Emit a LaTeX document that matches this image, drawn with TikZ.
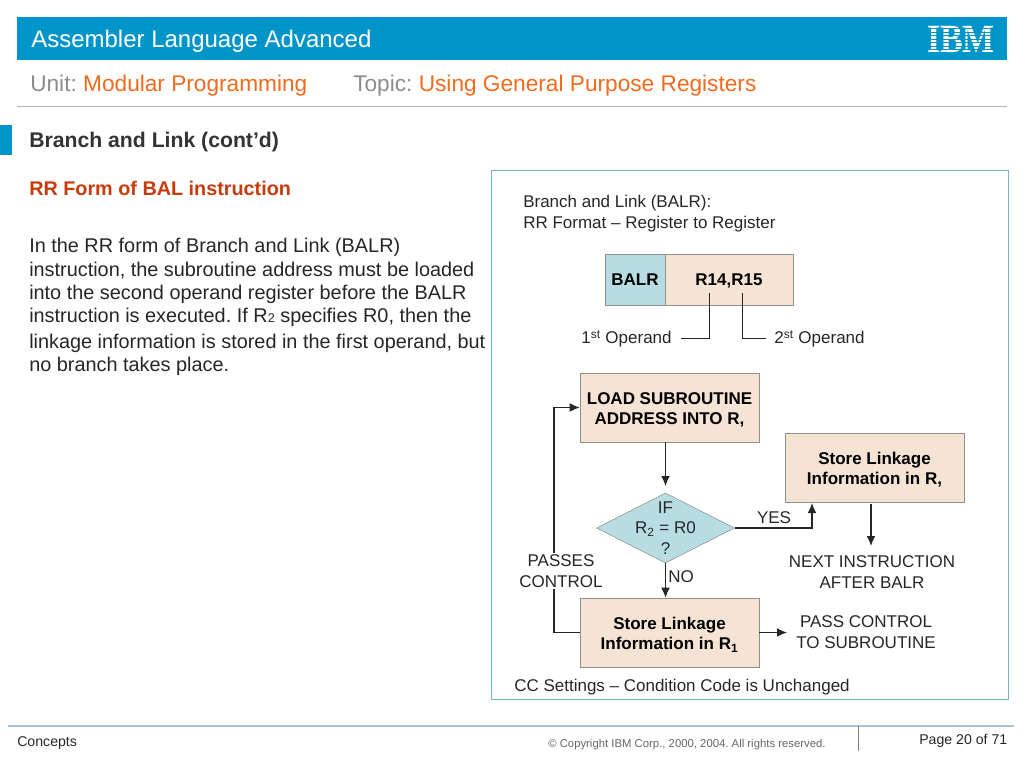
\documentclass[tikz,border=0pt]{standalone}
\usepackage{fontspec}
\setmainfont{Liberation Sans}
\newfontfamily\logofont{Liberation Serif}
\usepackage{tikz}
\usetikzlibrary{arrows.meta,shapes.geometric}
\frenchspacing
\newcommand\boxtop{\rule{0pt}{12.5pt}}

\definecolor{ibmblue}{HTML}{0095C8}
\definecolor{unitgray}{HTML}{8C8C8C}
\definecolor{unitorange}{HTML}{F26A1B}
\definecolor{headred}{HTML}{C93A0C}
\definecolor{panelblue}{HTML}{6FB5CF}
\definecolor{boxtan}{HTML}{F5E3D3}
\definecolor{boxteal}{HTML}{B7DDE3}
\definecolor{boxline}{HTML}{8F8F8F}
\definecolor{footline}{HTML}{A9C4D2}

\tikzset{
  txt/.style={anchor=base west,inner sep=0pt,text=black!85},
  unitlabel/.style={txt,font=\fontsize{17}{20}\selectfont},
  bodyline/.style={txt,font=\fontsize{14.9}{17}\selectfont},
  small/.style={inner sep=0pt,align=center,text=black!85,font=\fontsize{12.75}{15.4}\selectfont},
  regbox/.style={draw=boxline,fill=boxtan,inner sep=0pt,align=center,minimum width=134.25pt,minimum height=51.75pt,font=\fontsize{12.75}{15.4}\selectfont\bfseries},
  fmtbox/.style={draw=boxline,inner sep=0pt,minimum height=38.25pt,text height=9pt,text depth=0pt,font=\fontsize{12.75}{15}\selectfont\bfseries},
  decision/.style={diamond,draw=boxline,fill=boxteal,inner sep=0pt,minimum width=103.5pt,minimum height=52.5pt},
  flow/.style={-{Latex[length=7.5pt,width=6.5pt]},line width=0.9pt,black!85},
  plain/.style={line width=0.7pt,black!85}
}

\begin{document}
\begin{tikzpicture}[x=0.75pt,y=-0.75pt]
  \useasboundingbox (0,0) rectangle (1024,768);

  % header
  \fill[ibmblue] (17,17) rectangle (1007,60);
  \draw (31,47) node[txt,text=white,font=\fontsize{18}{22}\selectfont] (title) {Assembler Language Advanced};
  \draw (961,52) node[anchor=base,inner sep=0pt,text=white,xscale=0.85,font=\fontsize{30}{30}\logofont\bfseries] (logo) {IBM};
  \foreach \ystripe in {28,31.5,35,38.5,42,45.5,49}
    \fill[ibmblue] (925,\ystripe) rectangle (997,\ystripe+1.4);

  \draw (30,91) node[unitlabel,text=unitgray] (unit) {Unit: \textcolor{unitorange}{Modular Programming}};
  \draw (353,91) node[unitlabel,text=unitgray] (topic) {Topic: \textcolor{unitorange}{Using General Purpose Registers}};
  \draw[black!30] (17,106.5) -- (1007,106.5);

  % left column
  \fill[ibmblue] (0,125) rectangle (12,155);
  \draw (29,147.5) node[txt,text=black!80,font=\fontsize{15.9}{17}\selectfont\bfseries] (branch) {Branch and Link (cont’d)};
  \draw (29,195) node[txt,text=headred,font=\fontsize{14.85}{17}\selectfont\bfseries] (rrform) {RR Form of BAL instruction};
  \draw (29,252) node[bodyline] (line1) {In the RR form of Branch and Link (BALR)};
  \draw (29,276) node[bodyline] (line2) {instruction, the subroutine address must be loaded};
  \draw (29,299) node[bodyline] (line3) {into the second operand register before the BALR};
  \draw (29,322) node[bodyline] (line4) {instruction is executed. If R{\fontsize{9.5}{9}\selectfont 2} specifies R0, then the};
  \draw (29,348) node[bodyline] (line5) {linkage information is stored in the first operand, but};
  \draw (29,371) node[bodyline] (line6) {no branch takes place.};

  % panel
  \draw[panelblue,line width=1pt] (491.5,170.5) rectangle (1008.5,699.5);
  \draw (523,207) node[txt,font=\fontsize{12.75}{15}\selectfont] (balrtitle) {Branch and Link (BALR):};
  \draw (523,228) node[txt,font=\fontsize{12.75}{15}\selectfont] (rrformat) {RR Format – Register to Register};

  % instruction format
  \draw (635,279.5) node[fmtbox,fill=boxteal,minimum width=45pt] (balr) {BALR};
  \draw (729,279.5) node[fmtbox,fill=boxtan,minimum width=96pt] (regs) {R14,R15};
  \draw (626.5,339) node[small] (first) {1\textsuperscript{st} Operand};
  \draw (819.5,339) node[small] (second) {2\textsuperscript{st} Operand};
  \coordinate (firsttop) at (709,293);
  \coordinate (secondtop) at (742,293);
  \coordinate (firstend) at (681,338);
  \coordinate (secondend) at (766,338);
  \draw[plain] (firsttop) |- (firstend);
  \draw[plain] (secondtop) |- (secondend);

  % flow chart
  \draw (669.5,407.5) node[regbox] (load) {\boxtop LOAD SUBROUTINE\\ADDRESS INTO R,};
  \draw (874.5,467.5) node[regbox] (storeone) {\boxtop Store Linkage\\Information in R,};
  \draw (669.5,632.5) node[regbox] (storetwo) {\boxtop Store Linkage\\Information in R\textsubscript{1}};
  \draw (665.5,528) node[decision] (test) {};
  \draw (665.5,528) node[small] (testtext) {IF\\R\textsubscript{2} = R0\\?};

  \coordinate (nextend) at (871,546);
  \coordinate (nextstart) at (871,504);
  \coordinate (loopx) at (554,520);
  \coordinate (yesend) at (812,503);
  \coordinate (passend) at (787,632.5);

  \path[flow] (load.south -| test.north) edge[shorten >=5pt] (test.north);
  \path[flow] (test.south) edge (storetwo.north -| test.south);
  \draw[flow] (test.east) -| (yesend);
  \path[flow] (nextstart) edge (nextend);
  \path[flow] (storetwo.east) edge (passend);
  \draw[flow] (storetwo.west) -| (loopx) |- (load.west);

  \draw (561,571) node[small,fill=white,inner ysep=1pt] (passes) {PASSES\\CONTROL};
  \draw (872,572) node[small] (next) {NEXT INSTRUCTION\\AFTER BALR};
  \draw (866,632) node[small] (passctl) {PASS CONTROL\\TO SUBROUTINE};
  \draw (774,518) node[small] (yes) {YES};
  \draw (681,577) node[small] (no) {NO};
  \draw (514,691) node[txt,font=\fontsize{12.75}{15}\selectfont] (ccset) {CC Settings – Condition Code is Unchanged};

  % footer
  \draw[footline,thick] (8,726) -- (1014,726);
  \draw[black!50] (858,726) -- (858,751);
  \draw (17,746) node[txt,font=\fontsize{10.6}{12}\selectfont] (concepts) {Concepts};
  \draw (548,747) node[txt,text=black!60,font=\fontsize{8.5}{10}\selectfont] (copyright) {© Copyright IBM Corp., 2000, 2004. All rights reserved.};
  \draw (919,744) node[txt,font=\fontsize{10.6}{12}\selectfont] (page) {Page 20 of 71};
\end{tikzpicture}
\end{document}
